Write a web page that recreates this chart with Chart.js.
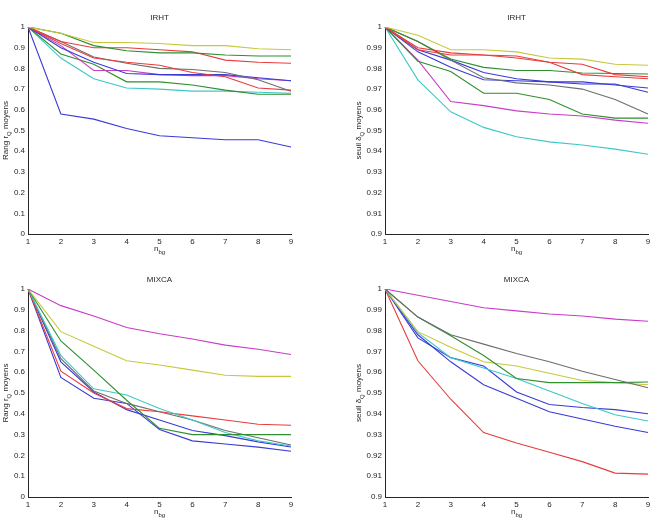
<!DOCTYPE html>
<html>
<head>
<meta charset="utf-8">
<script src="https://cdn.jsdelivr.net/npm/chart.js@4"></script>
<style>
  body { margin: 0; background: #fff; }
  #wrap { position: relative; width: 659px; height: 520px; }
  canvas { position: absolute; }
</style>
</head>
<body>
<div id="wrap">
  <canvas id="c1" width="330" height="260" style="left:0;top:0"></canvas>
  <canvas id="c2" width="329" height="260" style="left:330px;top:0"></canvas>
  <canvas id="c3" width="330" height="260" style="left:0;top:260px"></canvas>
  <canvas id="c4" width="329" height="260" style="left:330px;top:260px"></canvas>
</div>
<script>
const nbg = ['1', '2', '3', '4', '5', '6', '7', '8', '9'];

const rangTicks = [0, 0.1, 0.2, 0.3, 0.4, 0.5, 0.6, 0.7, 0.8, 0.9, 1];
const seuilTicks = [0.9, 0.91, 0.92, 0.93, 0.94, 0.95, 0.96, 0.97, 0.98, 0.99, 1];

// IRHT - rang
const irhtRang = [
    [1, 0.97, 0.925, 0.925, 0.92, 0.91, 0.91, 0.895, 0.89],
    [1, 0.97, 0.91, 0.885, 0.875, 0.875, 0.865, 0.86, 0.86],
    [1, 0.93, 0.90, 0.90, 0.89, 0.88, 0.84, 0.83, 0.825],
    [1, 0.92, 0.85, 0.83, 0.815, 0.78, 0.76, 0.705, 0.695],
    [1, 0.93, 0.855, 0.825, 0.80, 0.795, 0.78, 0.745, 0.69],
    [1, 0.90, 0.83, 0.775, 0.77, 0.77, 0.77, 0.755, 0.74],
    [1, 0.91, 0.79, 0.79, 0.77, 0.765, 0.765, 0.75, 0.74],
    [1, 0.87, 0.82, 0.735, 0.735, 0.72, 0.695, 0.675, 0.675],
    [1, 0.85, 0.75, 0.705, 0.70, 0.69, 0.69, 0.685, 0.68],
    [1, 0.58, 0.555, 0.51, 0.475, 0.465, 0.455, 0.455, 0.42],
];
const irhtColors = ['yellow', 'green', 'red', 'red', 'gray', 'blue', 'magenta', 'green', 'cyan', 'blue'];

// IRHT - seuil
const irhtSeuil = [
    [1, 0.996, 0.989, 0.989, 0.988, 0.985, 0.9845, 0.982, 0.9815],
    [1, 0.990, 0.9875, 0.9865, 0.986, 0.983, 0.982, 0.977, 0.976],
    [1, 0.989, 0.9865, 0.9865, 0.985, 0.983, 0.977, 0.976, 0.975],
    [1, 0.993, 0.9845, 0.9805, 0.979, 0.979, 0.9778, 0.9775, 0.9773],
    [1, 0.993, 0.984, 0.9755, 0.973, 0.972, 0.970, 0.965, 0.958],
    [1, 0.989, 0.984, 0.978, 0.975, 0.9735, 0.9735, 0.972, 0.9705],
    [1, 0.988, 0.9805, 0.9745, 0.974, 0.9735, 0.9725, 0.9725, 0.9685],
    [1, 0.9835, 0.9785, 0.968, 0.968, 0.965, 0.958, 0.956, 0.956],
    [1, 0.984, 0.964, 0.962, 0.9595, 0.958, 0.957, 0.955, 0.9535],
    [1, 0.9745, 0.959, 0.9515, 0.947, 0.9445, 0.943, 0.941, 0.9385],
];
const irhtSeuilColors = ['yellow', 'red', 'red', 'green', 'gray', 'blue', 'blue', 'green', 'magenta', 'cyan'];

// MIXCA - rang
const mixcaRang = [
    [1, 0.92, 0.87, 0.815, 0.785, 0.76, 0.73, 0.71, 0.685],
    [1, 0.795, 0.725, 0.655, 0.635, 0.61, 0.585, 0.58, 0.58],
    [1, 0.75, 0.61, 0.465, 0.33, 0.30, 0.30, 0.30, 0.30],
    [1, 0.68, 0.52, 0.49, 0.425, 0.37, 0.31, 0.27, 0.245],
    [1, 0.605, 0.50, 0.425, 0.41, 0.39, 0.37, 0.35, 0.345],
    [1, 0.665, 0.51, 0.45, 0.41, 0.37, 0.32, 0.285, 0.25],
    [1, 0.65, 0.505, 0.42, 0.37, 0.32, 0.295, 0.265, 0.24],
    [1, 0.575, 0.475, 0.45, 0.325, 0.27, 0.255, 0.24, 0.22],
];
const mixcaColors = ['magenta', 'yellow', 'green', 'cyan', 'red', 'gray', 'blue', 'blue'];

// MIXCA - seuil
const mixcaSeuil = [
    [1, 0.997, 0.994, 0.991, 0.9895, 0.988, 0.987, 0.9855, 0.9845],
    [1, 0.9865, 0.978, 0.9735, 0.969, 0.965, 0.9605, 0.9565, 0.9525],
    [1, 0.9865, 0.9775, 0.968, 0.957, 0.955, 0.955, 0.955, 0.9553],
    [1, 0.9795, 0.972, 0.965, 0.963, 0.9595, 0.956, 0.955, 0.954],
    [1, 0.979, 0.967, 0.962, 0.957, 0.951, 0.945, 0.9395, 0.9365],
    [1, 0.9765, 0.967, 0.963, 0.9505, 0.9445, 0.943, 0.942, 0.940],
    [1, 0.978, 0.965, 0.954, 0.9475, 0.941, 0.9375, 0.934, 0.931],
    [1, 0.9655, 0.947, 0.931, 0.926, 0.9215, 0.917, 0.9115, 0.911],
];
const mixcaSeuilColors = ['magenta', 'gray', 'green', 'yellow', 'cyan', 'blue', 'blue', 'red'];

const palette = {
    yellow: '#c8c83c',
    green: '#2f8f2f',
    red: '#e83c3c',
    gray: '#6e6e6e',
    blue: '#3a3ad8',
    magenta: '#c83cc8',
    cyan: '#3cc8c8',
};

const FONT = '"Liberation Sans", Arial, sans-serif';
const INK = '#262626';

// draws "main" + subscript + "rest" starting at x (left aligned, baseline y)
function textSub(ctx, x, y, main, sub, rest) {
    ctx.font = '8px ' + FONT;
    ctx.fillText(main, x, y);
    let w = ctx.measureText(main).width;
    ctx.font = '6px ' + FONT;
    ctx.fillText(sub, x + w, y + 3);
    w += ctx.measureText(sub).width;
    ctx.font = '8px ' + FONT;
    ctx.fillText(rest, x + w, y);
}
function widthSub(ctx, main, sub, rest) {
    ctx.font = '8px ' + FONT;
    let w = ctx.measureText(main).width + ctx.measureText(rest).width;
    ctx.font = '6px ' + FONT;
    return w + ctx.measureText(sub).width;
}

const labelsPlugin = {
    id: 'matlabLabels',
    afterDraw(chart, args, opts) {
        const ctx = chart.ctx;
        const a = chart.chartArea;
        const cx = (a.left + a.right) / 2;
        const cy = (a.top + a.bottom) / 2;
        ctx.save();
        ctx.fillStyle = INK;
        ctx.textBaseline = 'alphabetic';
        ctx.textAlign = 'left';
        // title
        ctx.font = '8px ' + FONT;
        ctx.textAlign = 'center';
        ctx.fillText(opts.title, cx, a.top - 7);
        ctx.textAlign = 'left';
        // x title
        const wx = widthSub(ctx, 'n', 'bg', '');
        textSub(ctx, cx - wx / 2, a.bottom + 17, 'n', 'bg', '');
        // y title
        ctx.translate(opts.yTitleX, cy);
        ctx.rotate(-Math.PI / 2);
        const wy = widthSub(ctx, opts.yMain, 'Q', ' moyens');
        textSub(ctx, -wy / 2, 3, opts.yMain, 'Q', ' moyens');
        ctx.restore();
    }
};

function makeChart(id, cfg) {
    new Chart(document.getElementById(id), {
        type: 'line',
        data: {
            labels: nbg,
            datasets: cfg.series.map((d, i) => ({
                data: d,
                borderColor: palette[cfg.colors[i]],
                borderWidth: 1.1,
                pointRadius: 0,
                tension: 0,
                fill: false,
            })),
        },
        options: {
            responsive: false,
            animation: false,
            devicePixelRatio: 1,
            layout: { padding: { top: cfg.top, right: cfg.right, left: 0, bottom: 0 } },
            plugins: {
                legend: { display: false },
                tooltip: { enabled: false },
                matlabLabels: { title: cfg.title, yMain: cfg.yMain, yTitleX: cfg.yTitleX },
            },
            scales: {
                x: {
                    grid: { display: false, drawTicks: false },
                    border: { display: true, color: INK, width: 1 },
                    ticks: { color: INK, font: { family: FONT, size: 8 }, padding: 3, maxRotation: 0 },
                    afterFit: s => { s.height = cfg.xHeight; },
                },
                y: {
                    min: cfg.ticks[0],
                    max: cfg.ticks[cfg.ticks.length - 1],
                    grid: { display: false, drawTicks: false },
                    border: { display: true, color: INK, width: 1 },
                    afterBuildTicks: s => { s.ticks = cfg.ticks.map(v => ({ value: v })); },
                    ticks: {
                        color: INK,
                        font: { family: FONT, size: 8 },
                        padding: 3,
                        callback: v => String(Number(v.toFixed(2))),
                    },
                    afterFit: s => { s.width = cfg.yWidth; },
                },
            },
        },
        plugins: [labelsPlugin],
    });
}

makeChart('c1', { series: irhtRang, colors: irhtColors, ticks: rangTicks, title: 'IRHT', yMain: 'Rang r',
    top: 27, right: 39, yWidth: 28, xHeight: 26, yTitleX: 5 });
makeChart('c2', { series: irhtSeuil, colors: irhtSeuilColors, ticks: seuilTicks, title: 'IRHT', yMain: 'seuil \u03b4',
    top: 27, right: 11, yWidth: 55, xHeight: 26, yTitleX: 28 });
makeChart('c3', { series: mixcaRang, colors: mixcaColors, ticks: rangTicks, title: 'MIXCA', yMain: 'Rang r',
    top: 29, right: 39, yWidth: 28, xHeight: 23, yTitleX: 5 });
makeChart('c4', { series: mixcaSeuil, colors: mixcaSeuilColors, ticks: seuilTicks, title: 'MIXCA', yMain: 'seuil \u03b4',
    top: 29, right: 11, yWidth: 55, xHeight: 23, yTitleX: 28 });
</script>
</body>
</html>
